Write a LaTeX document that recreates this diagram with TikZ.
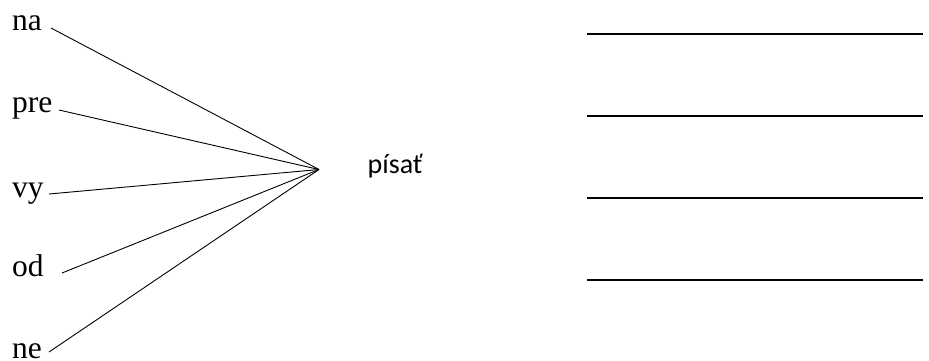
\documentclass[tikz,border=0pt]{standalone}
\usepackage{fontspec}
\setmainfont{Liberation Serif}
\newfontfamily\calib{Carlito}
\begin{document}
\begin{tikzpicture}[x=1pt,y=-1pt,
  lbl/.style={anchor=base west,inner sep=0pt,font=\fontsize{31.5}{36}\selectfont},
  word/.style={anchor=base west,inner sep=0pt,font=\calib\fontsize{28}{32}\selectfont},
  ray/.style={line width=0.9pt},
  blank/.style={line width=1.6pt}]
\useasboundingbox (0,0) rectangle (929,360);
% labels
\node[lbl] (na) at (12,30.7) {na};
\node[lbl] (pre) at (12,112) {pre};
\node[lbl] (vy) at (12,197) {vy};
\node[lbl] (od) at (12,276.7) {od};
\node[lbl] (ne) at (12,358.3) {ne};
\node[word] (pisat) at (367.5,173.3) {písať};
% ray ends
\coordinate (apex) at (319,169.5);
\coordinate (s1) at (51,28);
\coordinate (s2) at (59,110);
\coordinate (s3) at (49,194);
\coordinate (s4) at (62,273);
\coordinate (s5) at (49,352);
\foreach \s in {s1,s2,s3,s4,s5} \draw[ray] (\s) -- (apex);
% answer blanks
\coordinate (b1l) at (587,34); \coordinate (b1r) at (923,34);
\coordinate (b2l) at (587,116);  \coordinate (b2r) at (923,116);
\coordinate (b3l) at (587,198);  \coordinate (b3r) at (923,198);
\coordinate (b4l) at (587,280);  \coordinate (b4r) at (923,280);
\draw[blank] (b1l) -- (b1r);
\draw[blank] (b2l) -- (b2r);
\draw[blank] (b3l) -- (b3r);
\draw[blank] (b4l) -- (b4r);
\end{tikzpicture}
\end{document}
